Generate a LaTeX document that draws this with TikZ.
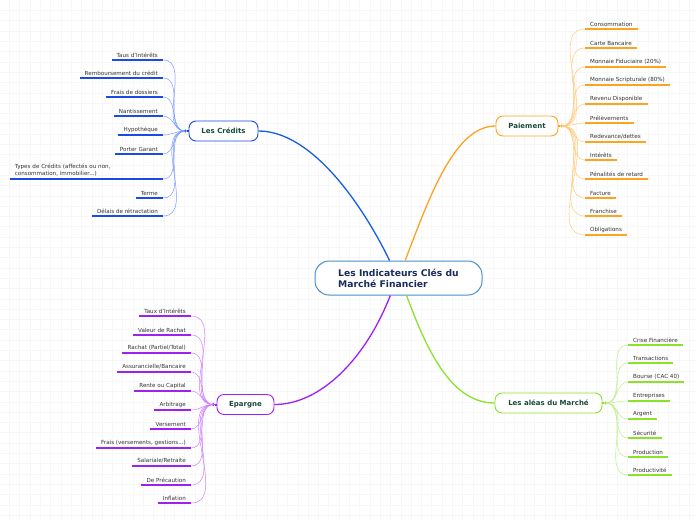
\documentclass[tikz,border=0pt]{standalone}
\usepackage{fontspec}
\setmainfont{DejaVu Sans}
\usetikzlibrary{positioning}
\definecolor{CoreBlue}{HTML}{4A8FCF}
\definecolor{CoreText}{HTML}{1C2B5C}
\definecolor{BranchText}{HTML}{1B4A3A}
\definecolor{LeafText}{HTML}{333333}
\definecolor{CredBlue}{HTML}{1A4BE8}
\definecolor{CredLight}{HTML}{7C9CFF}
\definecolor{PayOrange}{HTML}{FFA21F}
\definecolor{PayLight}{HTML}{FFCB7A}
\definecolor{EparPurple}{HTML}{A020F0}
\definecolor{EparLight}{HTML}{CF80FF}
\definecolor{MarGreen}{HTML}{8BE22B}
\definecolor{MarLight}{HTML}{BDF08A}
\definecolor{GridLine}{HTML}{F7F7F7}
\newcommand{\leaffont}{\fontsize{5.6}{6.8}\selectfont}
\newcommand{\branchfont}{\fontsize{7}{8.4}\selectfont\bfseries}
\newcommand{\corefont}{\fontsize{9.2}{11}\selectfont\bfseries}

\begin{document}
\begin{tikzpicture}[x=1pt,y=-1pt]
    \tikzset{leafbox/.style={inner xsep=5pt,inner ysep=2.6pt,font=\leaffont,text=LeafText},
      leafleft/.style={leafbox,anchor=south east},
      leafright/.style={leafbox,anchor=south west},
      branchbox/.style={rounded corners=7pt,draw,line width=0.9pt,fill=white,minimum height=20pt,
        inner xsep=4pt,font=\branchfont,text=BranchText},
      dotnode/.style={circle,inner sep=0pt,minimum size=3.2pt},
      mainlink/.style={line width=1.3pt},
      underline/.style={line width=2pt},
      leaflink/.style={line width=0.5pt}}
    % background
    \useasboundingbox (0,0) rectangle (696,520);
    \fill[white] (0,0) rectangle (696,520);
    \foreach \gx in {9.3,19.6,...,696} \draw[GridLine,line width=0.25pt] (\gx,0) -- (\gx,520);
    \foreach \gy in {10.3,20.6,...,520} \draw[GridLine,line width=0.25pt] (0,\gy) -- (696,\gy);

    % core and branches
    \node[rounded corners=14pt,draw=CoreBlue,line width=1pt,fill=white,minimum width=167pt,minimum height=34pt,
      font=\corefont,text=CoreText,align=left] (core) at (398.5,278) {Les Indicateurs Clés du\\Marché Financier};
    \node[branchbox,draw=CredBlue,minimum width=69pt] (cred) at (223.5,131) {Les Crédits};
    \node[branchbox,draw=PayOrange,minimum width=62pt] (pay) at (527,126) {Paiement};
    \node[branchbox,draw=EparPurple,minimum width=57pt] (epar) at (245.5,404.5) {Epargne};
    \node[branchbox,draw=MarGreen,minimum width=107pt] (mar) at (548.5,403) {Les aléas du Marché};
    \draw[mainlink,CredBlue!90!cyan] (core.117) .. controls (360,200) and (310,131) .. (cred.east);
    \draw[mainlink,PayOrange] (core.69) .. controls (430,195) and (455,126) .. (pay.west);
    \draw[mainlink,EparPurple] (core.245) .. controls (365,360) and (320,404.5) .. (epar.east);
    \draw[mainlink,MarGreen] (core.295) .. controls (430,360) and (455,403) .. (mar.west);

    \node[dotnode,fill=CredBlue,left=1.5pt of cred] (credDot) {};
    \node[dotnode,fill=PayOrange,right=1.5pt of pay] (payDot) {};
    \node[dotnode,fill=EparPurple,left=1.5pt of epar] (eparDot) {};
    \node[dotnode,fill=MarGreen,right=1.5pt of mar] (marDot) {};
    \draw[underline,CredBlue] (cred.west) -- (credDot);
    \draw[underline,PayOrange] (pay.east) -- (payDot);
    \draw[underline,EparPurple] (epar.west) -- (eparDot);
    \draw[underline,MarGreen] (mar.east) -- (marDot);

    % Les Credits
    \node[leafleft] (cr1) at (163,60) {Taus d'Intérêts};
    \node[leafleft] (cr2) at (163,78) {Remboursement du crédit};
    \node[leafleft] (cr3) at (163,97) {Frais de dossiers};
    \node[leafleft] (cr4) at (163,116) {Nantissement};
    \node[leafleft] (cr5) at (163,135) {Hypothèque};
    \node[leafleft] (cr6) at (163,154) {Porter Garant};
    \node[leafleft,align=left,text width=143pt] (cr7) at (163,179) {Types de Crédits (affectés ou non,\\consommation, immobilier...)};
    \node[leafleft] (cr8) at (163,198) {Terme};
    \node[leafleft] (cr9) at (163,216) {Délais de rétractation};
    \foreach \n in {cr1,cr2,cr3,cr4,cr5,cr6,cr7,cr8,cr9} {
      \draw[underline,CredBlue] (\n.south west) -- (\n.south east);
      \draw[leaflink,CredLight] (\n.south east) to[out=0,in=180] (credDot.center);
    }

    % Paiement
    \node[leafright] (pa1) at (585,29) {Consommation};
    \node[leafright] (pa2) at (585,48) {Carte Bancaire};
    \node[leafright] (pa3) at (585,67) {Monnaie Fiduciaire (20\%)};
    \node[leafright] (pa4) at (585,85) {Monnaie Scripturale (80\%)};
    \node[leafright] (pa5) at (585,104) {Revenu Disponible};
    \node[leafright] (pa6) at (585,123) {Prélèvements};
    \node[leafright] (pa7) at (585,142) {Redevance/dettes};
    \node[leafright] (pa8) at (585,160) {Intérêts};
    \node[leafright] (pa9) at (585,179) {Pénalités de retard};
    \node[leafright] (pa10) at (585,198) {Facture};
    \node[leafright] (pa11) at (585,216) {Franchise};
    \node[leafright] (pa12) at (585,235) {Obligations};
    \foreach \n in {pa1,pa2,pa3,pa4,pa5,pa6,pa7,pa8,pa9,pa10,pa11,pa12} {
      \draw[underline,PayOrange] (\n.south west) -- (\n.south east);
      \draw[leaflink,PayLight] (payDot.center) to[out=0,in=180] (\n.south west);
    }

    % Epargne
    \node[leafleft] (ep1) at (191,316) {Taux d'Intérêts};
    \node[leafleft] (ep2) at (191,335) {Valeur de Rachat};
    \node[leafleft] (ep3) at (191,353) {Rachat (Partiel/Total)};
    \node[leafleft] (ep4) at (191,372) {Assurancielle/Bancaire};
    \node[leafleft] (ep5) at (191,391) {Rente ou Capital};
    \node[leafleft] (ep6) at (191,410) {Arbitrage};
    \node[leafleft] (ep7) at (191,429) {Versement};
    \node[leafleft] (ep8) at (191,448) {Frais (versements, gestions...)};
    \node[leafleft] (ep9) at (191,466) {Salariale/Retraite};
    \node[leafleft] (ep10) at (191,485) {De Précaution};
    \node[leafleft] (ep11) at (191,503) {Inflation};
    \foreach \n in {ep1,ep2,ep3,ep4,ep5,ep6,ep7,ep8,ep9,ep10,ep11} {
      \draw[underline,EparPurple] (\n.south west) -- (\n.south east);
      \draw[leaflink,EparLight] (\n.south east) to[out=0,in=180] (eparDot.center);
    }

    % Les aleas du Marche
    \node[leafright] (ma1) at (628,345) {Crise Financière};
    \node[leafright] (ma2) at (628,363) {Transactions};
    \node[leafright] (ma3) at (628,382) {Bourse (CAC 40)};
    \node[leafright] (ma4) at (628,401) {Entreprises};
    \node[leafright] (ma5) at (628,419) {Argent};
    \node[leafright] (ma6) at (628,438) {Sécurité};
    \node[leafright] (ma7) at (628,457) {Production};
    \node[leafright] (ma8) at (628,475) {Productivité};
    \foreach \n in {ma1,ma2,ma3,ma4,ma5,ma6,ma7,ma8} {
      \draw[underline,MarGreen] (\n.south west) -- (\n.south east);
      \draw[leaflink,MarLight] (marDot.center) to[out=0,in=180] (\n.south west);
    }
  \end{tikzpicture}
\end{document}
